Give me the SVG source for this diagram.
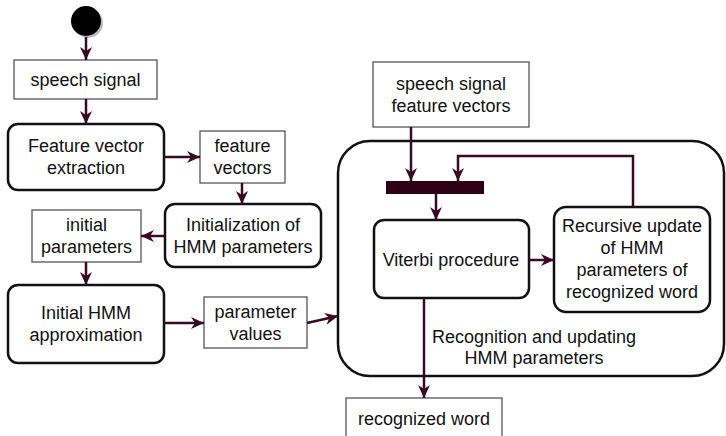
<svg xmlns="http://www.w3.org/2000/svg" width="726" height="436" viewBox="0 0 726 436">
<defs>
<marker id="ah" markerUnits="userSpaceOnUse" markerWidth="14" markerHeight="14" viewBox="0 0 14 14" refX="13" refY="7" orient="auto">
<path d="M0,1 L13,7 L0,13 L4,7 Z" fill="#3a0a22"/>
</marker>
</defs>
<style>
text{font-family:"Liberation Sans",Arial,sans-serif;font-size:18px;fill:#111;text-anchor:middle;dominant-baseline:central}
.data{fill:#fff;stroke:#555;stroke-width:1.3}
.act{fill:#fff;stroke:#111;stroke-width:2.5}
.c{fill:none;stroke:#3a0a22;stroke-width:2.5;marker-end:url(#ah)}
</style>
<g id="container"><rect x="338" y="141" width="386" height="235" rx="32" class="act"/>
<text x="534" y="337">Recognition and updating</text><text x="534" y="358">HMM parameters</text></g>
<g id="start"><circle cx="88" cy="23" r="15" fill="#bbb"/><circle cx="86" cy="21" r="15" fill="#000"/></g>
<g id="speech"><rect x="14" y="60" width="143" height="39" class="data"/><text x="85.5" y="79.5">speech signal</text></g>
<g id="fve"><rect x="8" y="124" width="156" height="66" rx="10" class="act"/><text x="86" y="146">Feature vector</text><text x="86" y="168">extraction</text></g>
<g id="fv"><rect x="200" y="131" width="85" height="52" class="data"/><text x="242.5" y="146">feature</text><text x="242.5" y="168">vectors</text></g>
<g id="init"><rect x="165" y="204" width="156" height="63" rx="10" class="act"/><text x="243" y="225">Initialization of</text><text x="243" y="247">HMM parameters</text></g>
<g id="ip"><rect x="32" y="210" width="109" height="52" class="data"/><text x="86.5" y="225">initial</text><text x="86.5" y="247">parameters</text></g>
<g id="iha"><rect x="8" y="285" width="156" height="78" rx="10" class="act"/><text x="86" y="313">Initial HMM</text><text x="86" y="335">approximation</text></g>
<g id="pv"><rect x="204" y="297" width="103" height="51" class="data"/><text x="255.5" y="312">parameter</text><text x="255.5" y="334">values</text></g>
<g id="sfv"><rect x="373" y="62" width="156" height="65" class="data"/><text x="451" y="84">speech signal</text><text x="451" y="106">feature vectors</text></g>
<g id="bar"><rect x="386" y="181" width="98" height="13" fill="#2d0016"/></g>
<g id="viterbi"><rect x="374" y="220" width="155" height="78" rx="10" class="act"/><text x="451" y="260">Viterbi procedure</text></g>
<g id="recursive"><rect x="554" y="207" width="156" height="105" rx="12" class="act"/><text x="632" y="226">Recursive update</text><text x="632" y="248">of HMM</text><text x="632" y="270">parameters of</text><text x="632" y="292">recognized word</text></g>
<g id="rw"><rect x="346" y="398" width="156" height="46" class="data"/><text x="424" y="419">recognized word</text></g>
<g id="connectors">
<path class="c" d="M86,37 L86,60"/>
<path class="c" d="M86,99 L86,124"/>
<path class="c" d="M164,157 L200,157"/>
<path class="c" d="M242,183 L242,204"/>
<path class="c" d="M165,236 L141,236"/>
<path class="c" d="M86,262 L86,285"/>
<path class="c" d="M164,323 L204,323"/>
<path class="c" d="M307,323 L338,316"/>
<path class="c" d="M411,127 L411,181"/>
<path class="c" d="M633,207 L633,156 L458,156 L458,181"/>
<path class="c" d="M436,194 L436,220"/>
<path class="c" d="M529,260 L554,260"/>
<path class="c" d="M424,298 L424,398"/>
</g>
</svg>
